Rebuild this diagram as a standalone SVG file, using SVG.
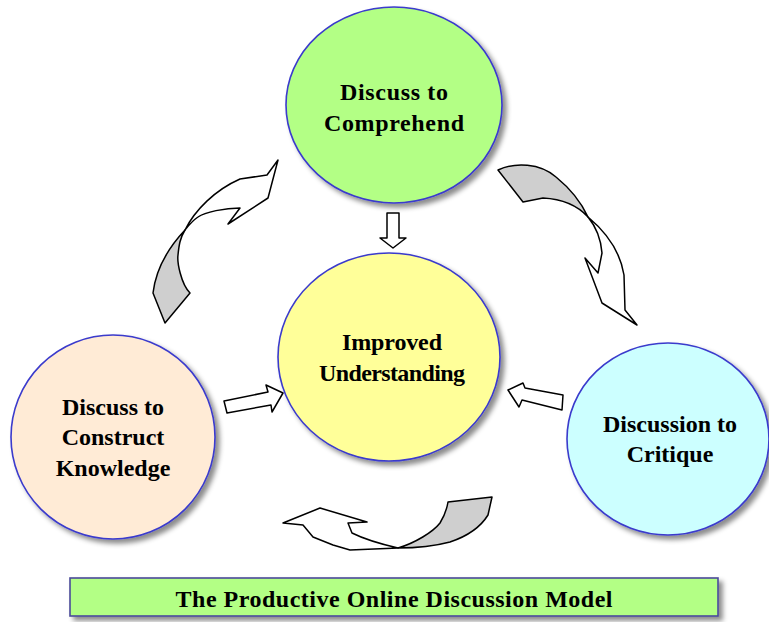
<svg xmlns="http://www.w3.org/2000/svg" width="769" height="622" viewBox="0 0 769 622">
<defs>
<filter id="sh" x="-20%" y="-20%" width="140%" height="140%">
<feDropShadow dx="4" dy="4" stdDeviation="2.5" flood-color="#000" flood-opacity="0.45"/>
</filter>
</defs>
<style>
.node ellipse{stroke:#3a3acc;stroke-width:1.6;filter:url(#sh)}
.lbl{font-family:"Liberation Serif","Times New Roman",serif;font-weight:bold;font-size:24px;fill:#000;text-anchor:middle}
.arr{stroke:#000;stroke-width:1.5;stroke-linejoin:round;fill:#fff}
.gry{fill:#cfcfcf}
</style>
<rect width="769" height="622" fill="#fff"/>
<g id="connectors">
<polygon class="arr" points="387,213 399,213 399,238 406,238 393,248 380,238 387,238"/>
<polygon class="arr" points="224,401 268,392 266,385 283,393 272,412 271,405 227,413"/>
<polygon class="arr" points="508,390 523,383 525,388 563,395 562,410 522,400 519,407"/>
<g id="curve-left">
<path class="arr" d="M185,230 C195,210 215,190 240,179 L267,175 L278,160 L268,198 L228,224 L240,208 C225,208 205,212 198,217 C192,221 189,225 185,230 Z"/>
<path class="arr gry" d="M185,230 C170,246 156,268 153,293 L165,323 L190,293 C181,284 177,262 178,255 C179,245 180,238 185,230 Z"/>
</g>
<g id="curve-right">
<path class="arr gry" d="M498,170 C515,162 540,163 556,177 C572,190 582,204 588,217 C578,206 562,199 543,198 L523,202 Z"/>
<path class="arr" d="M588,217 C606,232 620,250 624,275 L625,310 L637,325 L602,303 L585,258 L598,273 L602,253 C601,240 597,228 588,217 Z"/>
</g>
<g id="curve-bottom">
<path class="arr" d="M398,548 L350,550 L333,545 L313,537 L303,525 L283,523 L320,508 L367,522 L348,523 L352,533 C362,538 372,542 398,548 Z"/>
<path class="arr gry" d="M398,548 C415,543 433,532 440,523 C445,515 447,508 448,502 L492,497 L488,515 C480,528 465,537 450,542 C435,546 420,548 398,548 Z"/>
</g>
</g>
<g id="node-comprehend" class="node">
<ellipse cx="394" cy="105" rx="108" ry="98" fill="#b3ff85"/>
<text class="lbl" x="394" y="100" textLength="108">Discuss to</text>
<text class="lbl" x="394" y="131" textLength="140">Comprehend</text>
</g>
<g id="node-improved" class="node">
<ellipse cx="389" cy="357" rx="111" ry="104" fill="#ffff99"/>
<text class="lbl" x="392" y="350" textLength="100">Improved</text>
<text class="lbl" x="392" y="381" textLength="146">Understanding</text>
</g>
<g id="node-construct" class="node">
<ellipse cx="113" cy="437" rx="102" ry="102" fill="#ffebd6"/>
<text class="lbl" x="113" y="415">Discuss to</text>
<text class="lbl" x="113" y="445">Construct</text>
<text class="lbl" x="113" y="476">Knowledge</text>
</g>
<g id="node-critique" class="node">
<ellipse cx="668" cy="439" rx="101" ry="96" fill="#ccffff"/>
<text class="lbl" x="670" y="432">Discussion to</text>
<text class="lbl" x="670" y="462">Critique</text>
</g>
<g id="title">
<rect x="70" y="578" width="648" height="38" fill="#b3ff85" stroke="#4a4a9a" stroke-width="1.6" filter="url(#sh)"/>
<text class="lbl" x="394" y="607" textLength="437">The Productive Online Discussion Model</text>
</g>
</svg>
